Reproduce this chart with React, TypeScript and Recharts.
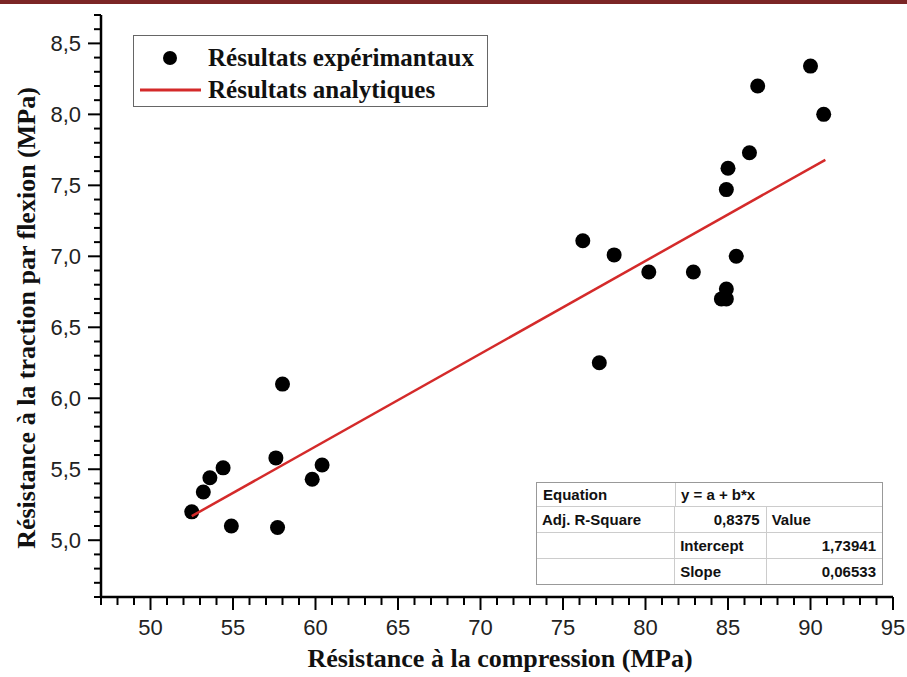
import { ScatterChart, Scatter, XAxis, YAxis, Legend } from "recharts";

const AXIS_FONT = "'Liberation Sans', Arial, sans-serif";
const TITLE_FONT = "'Liberation Serif', 'Times New Roman', serif";

const compression = [
  52.5, 53.2, 53.6, 54.4, 54.9, 57.6, 57.7, 58.0, 59.8, 60.4,
  76.2, 77.2, 78.1, 80.2, 82.9, 84.6, 84.9, 84.9, 85.5, 84.9,
  85.0, 86.3, 86.8, 90.0, 90.8,
];
const flexion = [
  5.2, 5.34, 5.44, 5.51, 5.1, 5.58, 5.09, 6.1, 5.43, 5.53,
  7.11, 6.25, 7.01, 6.89, 6.89, 6.7, 6.7, 6.77, 7.0, 7.47,
  7.62, 7.73, 8.2, 8.34, 8.0,
];

// analytic (linear fit) line end points
const fitX = [52.5, 90.9];
const fitY = [5.17, 7.68];

const xMajorTicks = [50, 55, 60, 65, 70, 75, 80, 85, 90, 95];
const yMajorTicks = [5.0, 5.5, 6.0, 6.5, 7.0, 7.5, 8.0, 8.5];
const xDomain: [number, number] = [47, 95];
const yDomain: [number, number] = [4.6, 8.7];

const tableRows = [
  ["Equation", "y = a + b*x", ""],
  ["Adj. R-Square", "0,8375", "Value"],
  ["", "Intercept", "1,73941"],
  ["", "Slope", "0,06533"],
];

const xTicks = Array.from({ length: xDomain[1] - xDomain[0] + 1 }, (_, i) => xDomain[0] + i);
const yTicks = Array.from({ length: 42 }, (_, i) => Math.round(yDomain[0] * 10 + i) / 10);

const points = compression.map((x, i) => ({ x, y: flexion[i] }));
const fitLine = fitX.map((x, i) => ({ x, y: fitY[i] }));

const isMajorX = (v: number) => xMajorTicks.includes(v);
const isMajorY = (v: number) => yMajorTicks.some((t) => Math.abs(t - v) < 1e-6);
const fmtY = (v: number) => v.toFixed(1).replace(".", ",");

function BottomTick({ x, y, payload }: any) {
  const major = isMajorX(payload.value);
  return (
    <g>
      <line x1={x} y1={y} x2={x} y2={y + (major ? 13 : 8)} stroke="#000" strokeWidth={2} />
      {major && (
        <text x={x} y={y + 38} textAnchor="middle" fontSize={22} fontFamily={AXIS_FONT} fill="#222">
          {payload.value}
        </text>
      )}
    </g>
  );
}

function TopTick({ x, y, payload }: any) {
  const major = isMajorX(payload.value);
  return <line x1={x} y1={y} x2={x} y2={y + (major ? 12 : 7)} stroke="#000" strokeWidth={2} />;
}

function LeftTick({ x, y, payload }: any) {
  const major = isMajorY(payload.value);
  return (
    <g>
      <line x1={x - (major ? 13 : 7)} y1={y} x2={x} y2={y} stroke="#000" strokeWidth={2} />
      {major && (
        <text x={x - 20} y={y + 8} textAnchor="end" fontSize={22} fontFamily={AXIS_FONT} fill="#222">
          {fmtY(payload.value)}
        </text>
      )}
    </g>
  );
}

function RightTick({ x, y, payload }: any) {
  const major = isMajorY(payload.value);
  return <line x1={x - (major ? 12 : 6)} y1={y} x2={x} y2={y} stroke="#000" strokeWidth={2} />;
}

function LegendBox({ payload }: any) {
  // points first, then the analytic line
  const items = [...(payload || [])].sort(
    (a: any, b: any) => (a.type === "line" ? 1 : 0) - (b.type === "line" ? 1 : 0)
  );
  return (
    <div
      style={{
        width: 355,
        height: 72,
        boxSizing: "border-box",
        border: "1.5px solid #666",
        background: "#fff",
        paddingTop: 6,
      }}
    >
      {items.map((entry: any) => (
        <div key={entry.value} style={{ display: "flex", alignItems: "center", height: 32 }}>
          <svg width={74} height={32}>
            {entry.type === "line" ? (
              <line x1={6} y1={16} x2={67} y2={16} stroke="#d42a2a" strokeWidth={3} />
            ) : (
              <circle cx={36} cy={16} r={7} fill="#000" />
            )}
          </svg>
          <span
            style={{
              fontFamily: TITLE_FONT,
              fontWeight: "bold",
              fontSize: 25,
              color: "#111",
              lineHeight: "32px",
              whiteSpace: "nowrap",
            }}
          >
            {entry.value}
          </span>
        </div>
      ))}
    </div>
  );
}

function StatsTable() {
  const cols = [139, 92, 116];
  const rowsH = [23, 25, 25, 25];
  return (
    <div
      style={{
        position: "absolute",
        left: 536,
        top: 482,
        width: 347,
        boxSizing: "border-box",
        border: "1px solid #999",
        background: "#fff",
        fontFamily: AXIS_FONT,
        fontWeight: "bold",
        fontSize: 15,
        color: "#111",
      }}
    >
      {tableRows.map((row, r) => (
        <div key={r} style={{ display: "flex", height: rowsH[r], borderTop: r ? "1px solid #ccc" : "none" }}>
          {r === 0 ? (
            <>
              <div style={{ width: cols[0], paddingLeft: 6, lineHeight: `${rowsH[r]}px`, boxSizing: "border-box", borderRight: "1px solid #ccc" }}>
                {row[0]}
              </div>
              <div style={{ flex: 1, paddingLeft: 5, lineHeight: `${rowsH[r]}px` }}>{row[1]}</div>
            </>
          ) : (
            row.map((cell, c) => {
              const numeric = /^[0-9]/.test(cell);
              return (
                <div
                  key={c}
                  style={{
                    width: cols[c],
                    boxSizing: "border-box",
                    borderRight: c < 2 ? "1px solid #ccc" : "none",
                    lineHeight: `${rowsH[r]}px`,
                    textAlign: numeric ? "right" : "left",
                    paddingLeft: numeric ? 0 : 5,
                    paddingRight: numeric ? 6 : 0,
                  }}
                >
                  {cell}
                </div>
              );
            })
          )}
        </div>
      ))}
    </div>
  );
}

export default function App() {
  return (
    <div style={{ position: "absolute", left: 0, top: 0, width: 907, height: 677, background: "#fff" }}>
      <div style={{ position: "absolute", left: 0, top: 0, width: 907, height: 4, background: "#7b2525" }} />
      <ScatterChart width={907} height={677} margin={{ top: 15, right: 14, bottom: 0, left: 0 }}>
        <XAxis
          xAxisId={0}
          type="number"
          dataKey="x"
          domain={xDomain}
          ticks={xTicks}
          interval={0}
          allowDataOverflow
          height={80}
          tickSize={0}
          tickMargin={0}
          tickLine={false}
          axisLine={{ stroke: "#000", strokeWidth: 2.5 }}
          tick={(p: any) => <BottomTick {...p} />}
          label={{
            content: (props: any) => {
              const vb = props.viewBox;
              return (
                <text
                  x={vb.x + vb.width / 2 + 3}
                  y={vb.y + 70}
                  textAnchor="middle"
                  fontFamily={TITLE_FONT}
                  fontWeight="bold"
                  fontSize={26}
                  fill="#111"
                >
                  Résistance à la compression (MPa)
                </text>
              );
            },
          }}
        />
        <XAxis
          xAxisId="top"
          orientation="top"
          type="number"
          dataKey="x"
          domain={xDomain}
          ticks={xTicks}
          interval={0}
          allowDataOverflow
          height={0}
          tickSize={0}
          tickMargin={0}
          tickLine={false}
          axisLine={{ stroke: "#000", strokeWidth: 2.5 }}
          tick={(p: any) => <TopTick {...p} />}
        />
        <YAxis
          yAxisId={0}
          type="number"
          dataKey="y"
          domain={yDomain}
          ticks={yTicks}
          interval={0}
          allowDataOverflow
          width={101}
          tickSize={0}
          tickMargin={0}
          tickLine={false}
          axisLine={{ stroke: "#000", strokeWidth: 2.5 }}
          tick={(p: any) => <LeftTick {...p} />}
          label={{
            content: (props: any) => {
              const vb = props.viewBox;
              const cx = vb.x + 35;
              const cy = vb.y + 303;
              return (
                <text
                  x={cx}
                  y={cy}
                  transform={`rotate(-90, ${cx}, ${cy})`}
                  textAnchor="middle"
                  fontFamily={TITLE_FONT}
                  fontWeight="bold"
                  fontSize={26}
                  fill="#111"
                >
                  Résistance à la traction par flexion (MPa)
                </text>
              );
            },
          }}
        />
        <YAxis
          yAxisId="right"
          orientation="right"
          type="number"
          dataKey="y"
          domain={yDomain}
          ticks={yTicks}
          interval={0}
          allowDataOverflow
          width={0}
          tickSize={0}
          tickMargin={0}
          tickLine={false}
          axisLine={{ stroke: "#000", strokeWidth: 2.5 }}
          tick={(p: any) => <RightTick {...p} />}
        />
        <Legend
          layout="horizontal"
          verticalAlign="middle"
          align="center"
          wrapperStyle={{ left: 133, top: 35, width: 355, height: 72 }}
          content={(props: any) => <LegendBox {...props} />}
        />
        <Scatter
          name="Résultats expérimantaux"
          data={points}
          fill="#000"
          legendType="circle"
          isAnimationActive={false}
          shape={(p: any) => <circle cx={p.cx} cy={p.cy} r={7.5} fill="#000" />}
        />
        <Scatter
          name="Résultats analytiques"
          data={fitLine}
          fill="#d42a2a"
          legendType="line"
          line={{ stroke: "#d42a2a", strokeWidth: 2.5 }}
          isAnimationActive={false}
          shape={() => <g />}
        />
      </ScatterChart>
      <StatsTable />
    </div>
  );
}
